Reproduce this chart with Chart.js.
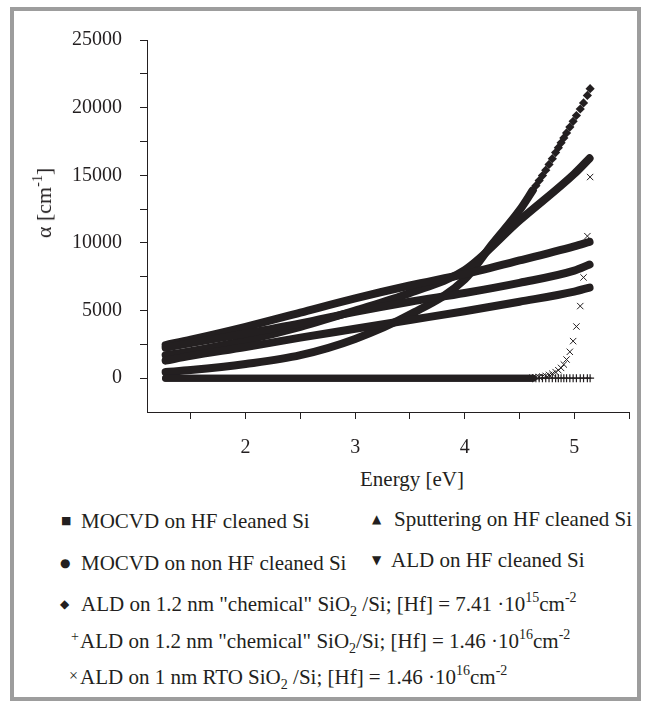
<!DOCTYPE html>
<html>
<head>
<meta charset="utf-8">
<script src="https://cdn.jsdelivr.net/npm/chart.js@4/dist/chart.umd.min.js"></script>
<style>
  html, body { margin: 0; padding: 0; background: #fff; }
  body { width: 646px; height: 706px; position: relative; overflow: hidden;
         font-family: 'Liberation Serif', 'Times New Roman', serif; color: #231f20; }
  #frame { position: absolute; left: 10px; top: 7px; width: 631px; height: 694px;
           box-sizing: border-box; border: 4px solid #9d9d9d; }
  #chartBox { position: absolute; left: 0; top: 0; }
  .t { position: absolute; white-space: nowrap; font-size: 21px; line-height: 24px; }
  .s { position: absolute; white-space: nowrap; font-family: 'DejaVu Sans', sans-serif; line-height: 24px; }
  .up { position: relative; top: -9px; font-size: 14px; }
  .dn { position: relative; top: 5px; font-size: 14px; }
  #ytitle { position: absolute; left: 44px; top: 203px; transform: translate(-50%, -50%) rotate(-90deg);
            font-size: 22px; white-space: nowrap; }
  #xtitle { position: absolute; left: 412px; top: 479px; transform: translate(-50%, -50%);
            font-size: 21px; white-space: nowrap; }
</style>
</head>
<body>
<div id="frame"></div>
<div id="chartBox"><canvas id="alphaChart" width="646" height="460"></canvas></div>
<div id="ytitle">&alpha; [cm<span class="up">-1</span>]</div>
<div id="xtitle">Energy [eV]</div>

<!-- legend -->
<div class="s" style="left:61px; top:509px; font-size:11px;">&#9632;</div>
<div class="t" style="left:81px; top:509px;">MOCVD on HF cleaned Si</div>
<div class="s" style="left:372px; top:507px; font-size:12px;">&#9650;</div>
<div class="t" style="left:394px; top:507px;">Sputtering on HF cleaned Si</div>

<div class="s" style="left:60px; top:551px; font-size:12px;">&#9679;</div>
<div class="t" style="left:81px; top:551px;">MOCVD on non HF cleaned Si</div>
<div class="s" style="left:372px; top:548px; font-size:12px;">&#9660;</div>
<div class="t" style="left:391px; top:548px;">ALD on HF cleaned Si</div>

<div class="s" style="left:60px; top:592px; font-size:12px;">&#9670;</div>
<div class="t" style="left:81px; top:592px;">ALD on 1.2 nm "chemical" SiO<span class="dn">2</span> /Si; [Hf] = 7.41 &middot;10<span class="up">15</span>cm<span class="up">-2</span></div>

<div class="t" style="left:71px; top:625px; font-size:14px;">+</div>
<div class="t" style="left:80px; top:629px;">ALD on 1.2 nm "chemical" SiO<span class="dn">2</span>/Si; [Hf] = 1.46 &middot;10<span class="up">16</span>cm<span class="up">-2</span></div>

<div class="t" style="left:69px; top:664px; font-size:16px;">&times;</div>
<div class="t" style="left:80px; top:665px;">ALD on 1 nm RTO SiO<span class="dn">2</span> /Si; [Hf] = 1.46 &middot;10<span class="up">16</span>cm<span class="up">-2</span></div>

<script>
// Absorption coefficient vs photon energy
const energy = [1.27, 1.5, 2.0, 2.5, 3.0, 3.5, 4.0, 4.5, 5.0, 5.14];
const mocvdHF = [2250, 2600, 3300, 4050, 4900, 5650, 6300, 7050, 7950, 8400];
const sputterHF = [2450, 2850, 3800, 4850, 5900, 6850, 7700, 8700, 9750, 10080];
const mocvdNonHF = [1700, 2000, 2800, 3800, 5000, 6300, 8000, 11650, 15100, 16250];
const aldHF = [1300, 1650, 2300, 3000, 3650, 4300, 4950, 5650, 6400, 6700];

// diamond series: solid band up to ~4.6 eV, single markers above
const chem741Energy = [1.27, 1.5, 2.0, 2.5, 3.0, 3.5, 4.0, 4.25, 4.5, 4.62];
const chem741 = [450, 600, 1050, 1700, 2900, 4700, 7300, 9900, 12400, 13870];

// flat part of the "+" and "x" series
const flatEnergy = [1.27, 4.62];
const chem146Flat = [0, 0];
const rto146Flat = [0, 0];

// high energy end where single markers can be seen
const tailEnergy = [4.62, 4.65, 4.68, 4.71, 4.74, 4.77, 4.80, 4.83, 4.855, 4.88, 4.905, 4.93, 4.96, 4.99, 5.02, 5.055, 5.085, 5.12, 5.145];
const chem741Tail = [13870, 14230, 14610, 14980, 15380, 15800, 16230, 16680, 17040, 17400, 17760, 18130, 18560, 18990, 19420, 19900, 20350, 20900, 21400];
const chem146Tail = [0, 0, 0, 0, 0, 0, 0, 0, 0, 0, 0, 0, 0, 0, 0, 0, 0, 0, 0];
const rto146Tail = [40, 60, 90, 120, 170, 240, 330, 450, 590, 760, 1010, 1380, 1950, 2740, 3820, 5330, 7450, 10500, 14870];

const xTicks = [1.5, 2, 2.5, 3, 3.5, 4, 4.5, 5, 5.5];
const yTicks = [0, 2500, 5000, 7500, 10000, 12500, 15000, 17500, 20000, 22500, 25000];

const ink = '#231f20';
const serif = "'Liberation Serif', 'Times New Roman', serif";

function pts(xs, ys) {
    return xs.map((x, i) => ({ x: x, y: ys[i] }));
}

function band(xs, ys, width) {
    return {
        data: pts(xs, ys),
        showLine: true,
        borderColor: ink,
        borderWidth: width,
        borderCapStyle: 'round',
        pointRadius: 0,
        cubicInterpolationMode: 'monotone'
    };
}

function marks(xs, ys, style, radius, lw) {
    return {
        data: pts(xs, ys),
        showLine: false,
        pointStyle: style,
        pointRadius: radius,
        borderColor: ink,
        backgroundColor: ink,
        borderWidth: lw
    };
}

const ctx = document.getElementById('alphaChart').getContext('2d');
const alphaChart = new Chart(ctx, {
    type: 'scatter',
    data: {
        datasets: [
            band(flatEnergy, chem146Flat, 7),
            band(flatEnergy, rto146Flat, 7),
            marks(tailEnergy, chem146Tail, 'cross', 4, 1.2),
            band(energy, aldHF, 8),
            band(energy, mocvdHF, 8),
            band(energy, sputterHF, 8),
            band(energy, mocvdNonHF, 8),
            band(chem741Energy, chem741, 8),
            marks(tailEnergy, chem741Tail, 'rectRot', 4.6, 0),
            marks(tailEnergy, rto146Tail, 'crossRot', 4.5, 1)
        ]
    },
    options: {
        responsive: false,
        animation: false,
        devicePixelRatio: 1,
        layout: { padding: { left: 0, top: 40, right: 15, bottom: 0 } },
        plugins: { legend: { display: false }, tooltip: { enabled: false } },
        scales: {
            x: {
                type: 'linear',
                min: 1.1,
                max: 5.5,
                afterBuildTicks: (scale) => { scale.ticks = xTicks.map(v => ({ value: v })); },
                afterFit: (scale) => { scale.height = 460 - 412; },
                ticks: {
                    autoSkip: false,
                    maxRotation: 0,
                    padding: 17,
                    color: ink,
                    font: { family: serif, size: 20 },
                    callback: (v) => Number.isInteger(v) ? String(v) : ''
                },
                grid: { drawOnChartArea: false, tickLength: 7, color: ink, lineWidth: 1 },
                border: { color: ink, width: 1 }
            },
            y: {
                type: 'linear',
                min: -2500,
                max: 25000,
                afterBuildTicks: (scale) => { scale.ticks = yTicks.map(v => ({ value: v })); },
                afterFit: (scale) => { scale.width = 147; },
                ticks: {
                    autoSkip: false,
                    padding: 18,
                    color: ink,
                    font: { family: serif, size: 20 },
                    callback: (v) => (v % 5000 === 0) ? String(v) : ''
                },
                grid: { drawOnChartArea: false, tickLength: 7, color: ink, lineWidth: 1 },
                border: { color: ink, width: 1 }
            }
        }
    }
});
</script>
</body>
</html>
